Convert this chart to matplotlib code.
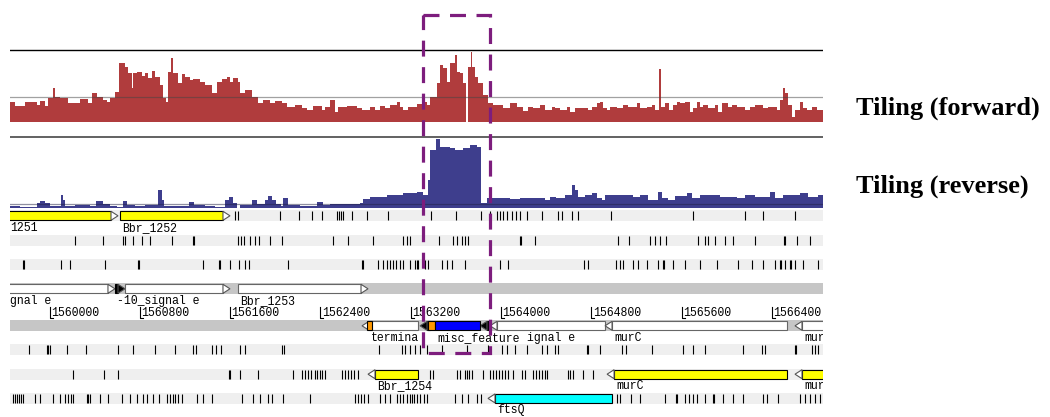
import numpy as np
import matplotlib
matplotlib.use("Agg")
import matplotlib.pyplot as plt
from matplotlib.patches import Rectangle, Polygon

# Genome window on screen. All positions below are bp from WINDOW_START.
WINDOW_START = 1559650
WINDOW_LEN = 7203

# Tiling signal, forward strand: step starts (bp) and heights (signal units)
fwd_pos = [0, 44, 133, 237, 266, 310, 339, 384, 399, 443, 517, 547, 620, 694,
           724, 768, 827, 857, 886, 930, 968, 1019, 1048, 1078, 1092, 1123,
           1167, 1196, 1225, 1255, 1285, 1329, 1358, 1382, 1403, 1424, 1447,
           1491, 1521, 1551, 1595, 1624, 1683, 1728, 1787, 1831, 1876, 1920,
           1949, 1978, 2023, 2038, 2082, 2141, 2200, 2244, 2304, 2348, 2407,
           2452, 2525, 2584, 2629, 2687, 2762, 2791, 2835, 2880, 2909, 2983,
           3072, 3116, 3190, 3234, 3278, 3323, 3367, 3426, 3455, 3485, 3529,
           3603, 3647, 3692, 3721, 3780, 3810, 3839, 3869, 3898, 3943, 3958,
           3987, 4017, 4040, 4055, 4085, 4093, 4120, 4149, 4194, 4238, 4282,
           4371, 4430, 4489, 4548, 4592, 4637, 4696, 4740, 4799, 4829, 4873,
           4932, 4962, 5006, 5124, 5154, 5198, 5227, 5257, 5287, 5316, 5375,
           5434, 5479, 5553, 5582, 5641, 5685, 5715, 5752, 5768, 5803, 5839,
           5877, 5907, 5936, 5981, 6025, 6054, 6084, 6113, 6143, 6187, 6246,
           6276, 6305, 6364, 6394, 6438, 6512, 6556, 6601, 6674, 6719, 6793,
           6823, 6852, 6867, 6897, 6926, 6955, 7000, 7029, 7059, 7103, 7147]
fwd_val = [0.85, 0.68, 0.85, 0.71, 0.89, 0.68, 0.99, 1.40, 1.03, 0.99, 0.78,
           0.80, 0.96, 0.78, 1.20, 1.05, 0.92, 0.82, 0.99, 1.26, 2.47, 2.30,
           2.03, 1.40, 2.03, 2.10, 1.92, 2.03, 1.82, 2.14, 1.89, 1.54, 0.99,
           0.85, 2.10, 2.65, 2.03, 1.61, 2.00, 1.89, 1.75, 1.78, 1.68, 1.54,
           1.20, 1.68, 1.78, 1.89, 1.68, 1.82, 1.68, 1.20, 1.33, 1.05, 0.78,
           0.92, 0.78, 0.88, 0.78, 0.61, 0.71, 0.57, 0.50, 0.67, 0.50, 0.64,
           0.92, 0.43, 0.64, 0.67, 0.57, 0.50, 0.64, 0.50, 0.68, 0.57, 0.71,
           0.85, 0.64, 0.50, 0.64, 0.74, 0.85, 0.71, 1.05, 1.61, 2.38, 2.24,
           1.68, 2.45, 2.79, 2.10, 2.03, 1.61, 0.00, 2.30, 2.93, 2.30, 1.89,
           1.61, 1.13, 0.78, 0.71, 0.57, 0.78, 0.64, 0.47, 0.64, 0.57, 0.71,
           0.50, 0.64, 0.57, 0.50, 0.64, 0.43, 0.57, 0.50, 0.64, 0.78, 0.85,
           0.57, 0.50, 0.64, 0.57, 0.71, 0.64, 0.78, 0.57, 0.64, 0.71, 0.50,
           2.20, 0.64, 0.78, 0.50, 0.71, 0.85, 0.78, 0.85, 0.43, 0.57, 0.85,
           0.64, 0.71, 0.57, 0.71, 0.43, 0.78, 0.64, 0.71, 0.64, 0.50, 0.64,
           0.71, 0.57, 0.64, 0.50, 0.92, 1.40, 1.20, 0.71, 0.22, 0.50, 0.85,
           0.57, 0.50, 0.64, 0.50]

# Tiling signal, reverse strand
rev_pos = [0, 89, 239, 266, 310, 354, 452, 470, 487, 576, 709, 762, 824, 886,
           948, 1001, 1037, 1108, 1196, 1311, 1347, 1364, 1506, 1586, 1630,
           1728, 1816, 1905, 1940, 1976, 2011, 2038, 2144, 2188, 2259, 2286,
           2321, 2357, 2401, 2419, 2463, 2569, 2720, 2773, 2835, 3101, 3128,
           3190, 3340, 3482, 3606, 3659, 3703, 3721, 3774, 3810, 3898, 3943,
           4014, 4076, 4138, 4173, 4226, 4341, 4430, 4519, 4607, 4740, 4785,
           4838, 4917, 4979, 5006, 5032, 5095, 5157, 5201, 5245, 5272, 5405,
           5520, 5582, 5653, 5741, 5777, 5830, 5892, 5998, 6043, 6113, 6291,
           6441, 6512, 6601, 6734, 6778, 6849, 7000, 7070, 7159]
rev_val = [0.08, 0.05, 0.21, 0.30, 0.21, 0.08, 0.54, 0.33, 0.08, 0.12, 0.10,
           0.29, 0.17, 0.08, 0.04, 0.29, 0.12, 0.08, 0.12, 0.75, 0.33, 0.08,
           0.10, 0.27, 0.12, 0.08, 0.06, 0.33, 0.46, 0.21, 0.02, 0.12, 0.33,
           0.17, 0.33, 0.50, 0.33, 0.17, 0.08, 0.42, 0.12, 0.10, 0.25, 0.12,
           0.17, 0.21, 0.36, 0.47, 0.54, 0.61, 0.68, 0.54, 1.17, 2.42, 2.86,
           2.55, 2.50, 2.42, 2.50, 2.63, 2.54, 0.20, 0.40, 0.42, 0.38, 0.42,
           0.40, 0.33, 0.47, 0.40, 0.54, 0.96, 0.75, 0.47, 0.54, 0.63, 0.40,
           0.33, 0.54, 0.54, 0.47, 0.54, 0.33, 0.67, 0.40, 0.33, 0.50, 0.63,
           0.40, 0.54, 0.47, 0.40, 0.54, 0.47, 0.67, 0.40, 0.54, 0.61, 0.47,
           0.54]

ruler_marks = [1560000, 1560800, 1561600, 1562400, 1563200, 1564000,
               1564800, 1565600, 1566400]

# features: (start, end, strand, colour, label as it shows on screen)
row1_features = [(-265, 957, "+", "yellow", "1251"),
                 (975, 1949, "+", "yellow", "Bbr_1252")]
row4_features = [(-387, 930, "+", "white", "gnal e"),
                 (930, 1019, "+", "black", "-10_signal e"),
                 (1019, 1949, "+", "white", ""),
                 (2020, 3172, "+", "white", "Bbr_1253")]
row5_features = [(3119, 3615, "-", "white", "termina"),
                 (3160, 3210, ".", "#ff9900", ""),
                 (3633, 3721, "-", "black", ""),
                 (3703, 3765, ".", "#ff9900", ""),
                 (4164, 4253, "-", "black", ""),
                 (4253, 5272, "-", "white", "ignal e"),
                 (3765, 4164, ".", "#0000ff", "misc_feature"),
                 (5272, 6884, "-", "white", "murC"),
                 (6955, 7900, "-", "white", "murC")]
row7_features = [(3172, 3615, "-", "yellow", "Bbr_1254"),
                 (5290, 6884, "-", "yellow", "murC"),
                 (6955, 7900, "-", "yellow", "murC")]
row8_features = [(4235, 5334, "-", "#00ffff", "ftsQ")]

# single hits drawn as ticks
row1_ticks = [1994, 2020, 2392, 2561, 2676, 2764, 2897, 2915, 2933, 2950,
              3030, 3163, 3349, 3730, 3952, 4173, 4253, 4315, 4341, 4368,
              4403, 4448, 4483, 4519, 4581, 4714, 4855, 4891, 4979, 5032,
              5325, 6051, 6512, 6672, 6955]
row2_ticks = [576, 824, 1001, 1019, 1090, 1170, 1240, 1435, 1621, 1630, 2020,
              2047, 2073, 2126, 2171, 2206, 2304, 2410, 2862, 2995, 3216,
              3482, 3517, 3544, 3801, 3925, 3960, 4005, 4031, 4058, 4519,
              4528, 4652, 5387, 5484, 5670, 5715, 5759, 5812, 6096, 6158,
              6184, 6246, 6335, 6406, 6601, 6858, 6867, 6973, 7088]
row3_ticks = [115, 124, 452, 532, 842, 1134, 1143, 1710, 1852, 1861, 1949,
              2029, 2082, 2118, 2463, 3119, 3128, 3260, 3305, 3340, 3367,
              3393, 3420, 3455, 3482, 3544, 3588, 3606, 3615, 3677, 3703,
              3828, 3872, 3916, 4031, 4341, 4412, 5086, 5121, 5369, 5405,
              5431, 5520, 5564, 5644, 5741, 5786, 5795, 5874, 5981, 6113,
              6264, 6450, 6574, 6672, 6778, 6822, 6831, 6867, 6911, 6920,
              6955, 7026, 7159]
row6_ticks = [168, 328, 337, 354, 505, 673, 957, 1090, 1285, 1462, 1621,
              1648, 1790, 1825, 1869, 2038, 2082, 2410, 2428, 3269, 3473,
              3500, 3544, 3588, 3633, 3695, 3828, 4049, 4235, 4359, 4403,
              4474, 4581, 4714, 4758, 4829, 4855, 5112, 5121, 5227, 5422,
              5458, 5688, 5963, 6051, 6158, 6494, 6663, 6689, 6955, 6964,
              7106, 7132, 7159]
row7_ticks = [558, 833, 957, 1940, 1949, 2038, 2197, 2507, 2587, 2614, 2640,
              2667, 2702, 2720, 2747, 2764, 2791, 2942, 2968, 2995, 3021,
              3048, 3083, 3721, 3748, 3960, 3987, 4031, 4049, 4067, 4093,
              4191, 4253, 4279, 4306, 4333, 4359, 4386, 4412, 4457, 4536,
              4563, 4634, 4660, 4687, 4714, 4740, 4758, 4944, 4962, 4988,
              5077, 5165]
row8_ticks = [27, 44, 62, 80, 97, 115, 222, 266, 381, 443, 487, 514, 540, 558,
              682, 691, 709, 797, 868, 992, 1063, 1125, 1178, 1214, 1267,
              1320, 1391, 1418, 1444, 1462, 1488, 1524, 1657, 1710, 1790,
              2056, 2153, 2215, 2286, 2321, 2419, 2658, 3057, 3083, 3110,
              3136, 3172, 3278, 3323, 3367, 3429, 3455, 3482, 3517, 3544,
              3562, 3579, 3606, 3633, 3668, 3695, 3943, 4005, 4058, 4138,
              4173, 5378, 5405, 5502, 5582, 5803, 5901, 5910, 5981, 6016,
              6051, 6087, 6158, 6229, 6238, 6317, 6406, 6494, 6672, 6707,
              6804, 7000, 7044, 7088, 7132, 7177]

# --- figure: one axes in genome bp (x) and screen rows (y) ----------------
W, H = 1050, 417
fig = plt.figure(figsize=(W / 100, H / 100), dpi=100)
ax = fig.add_axes([10 / W, 0, 813 / W, 1])
ax.set_xlim(0, WINDOW_LEN)
ax.set_ylim(H, 0)
ax.axis("off")

BP = WINDOW_LEN / 813          # bp per pixel
UNIT = 24                      # pixels per signal unit
RED = "#b03c3d"
BLUE = "#3e3e8d"
MONO = "Liberation Mono"
FS = 8.3
CHAR_PX = 6.9                  # width of one monospace character


def draw_signal(pos, val, base, colour):
    x = np.append(pos, WINDOW_LEN)
    y = np.append(val, val[-1])
    ax.fill_between(x, base, base - y * UNIT, step="post", color=colour,
                    lw=0, zorder=2)


draw_signal(fwd_pos, fwd_val, 122, RED)
draw_signal(rev_pos, rev_val, 208, BLUE)
ax.axhline(50, color="black", lw=1.0, zorder=3)
ax.axhline(97, color="#444444", lw=0.9, alpha=0.5, zorder=3)
ax.axhline(137, color="#555555", lw=1.3, zorder=3)
ax.axhline(204, color="#222244", lw=0.9, alpha=0.5, zorder=3)

# track rows: (centre y, band colour)
rows = {1: (215.8, "#efefef"), 2: (240.5, "#efefef"), 3: (264.7, "#efefef"),
        4: (288.8, "#c6c6c6"), 5: (325.8, "#c6c6c6"), 6: (349.2, "#efefef"),
        7: (374.2, "#efefef"), 8: (398.4, "#efefef")}
for yc, band in rows.values():
    ax.add_patch(Rectangle((0, yc - 5.5), WINDOW_LEN, 11, fc=band, ec="none",
                           zorder=1))


def draw_ticks(row, ticks):
    yc = rows[row][0]
    ax.vlines(ticks, yc - 4.5, yc + 4.5, color="black", lw=0.8, zorder=2)


for r, t in [(1, row1_ticks), (2, row2_ticks), (3, row3_ticks),
             (6, row6_ticks), (7, row7_ticks), (8, row8_ticks)]:
    draw_ticks(r, t)

ARROW = 7 * BP


def box_start(start, strand):
    return start + ARROW if strand == "-" else start


def draw_feature(row, start, end, strand, colour):
    yc = rows[row][0]
    h = 9
    edge = "#666666" if colour == "white" else "black"
    tri_fc = "black" if colour == "black" else "white"
    y0, y1 = yc - h / 2, yc + h / 2
    tri = None
    bx0, bx1 = box_start(start, strand), end
    if strand == "+":
        bx1 = end - ARROW
        tri = [(bx1, y0), (end, yc), (bx1, y1)]
    elif strand == "-":
        tri = [(bx0, y0), (start, yc), (bx0, y1)]
    ax.add_patch(Rectangle((bx0, y0), bx1 - bx0, h, fc=colour, ec=edge,
                           lw=0.8, zorder=3))
    if tri:
        ax.add_patch(Polygon(tri, closed=True, fc=tri_fc, ec="#555555",
                             lw=0.8, zorder=3))


def draw_labels(row, feats):
    # labels sit under the box, held inside the view; a label that would
    # run into the previous one is pushed to the right
    yc = rows[row][0]
    placed = sorted((max(box_start(s, st) + 2 * BP, 0), lab)
                    for s, e, st, c, lab in feats if lab)
    last_end = -1e9
    for x, lab in placed:
        x = max(x, last_end + CHAR_PX * BP)
        ax.text(x, yc + 12, lab, fontfamily=MONO, fontsize=FS, va="center",
                ha="left", zorder=4, clip_on=True)
        last_end = x + len(lab) * CHAR_PX * BP


for r, feats in [(1, row1_features), (4, row4_features), (5, row5_features),
                 (7, row7_features), (8, row8_features)]:
    for s, e, st, c, lab in feats:
        draw_feature(r, s, e, st, c)
    draw_labels(r, feats)

# coordinate ruler
for mark in ruler_marks:
    x = mark - WINDOW_START
    ax.plot([x, x, x + 3 * BP], [307, 318, 318], color="black", lw=0.8,
            zorder=3)
    ax.text(x + 1.5 * BP, 313, str(mark), fontfamily=MONO, fontsize=FS,
            va="center", ha="left", zorder=4)

# highlighted region
ax.add_patch(Rectangle((3659, 15), 594, 338, fill=False, ec="#7d1d7d",
                       lw=2.3, ls=(0, (5, 3.3)), zorder=6, clip_on=False))

for txt, yb in [("Tiling (forward)", 115), ("Tiling (reverse)", 193)]:
    fig.text(856 / W, 1 - yb / H, txt, fontfamily="Liberation Serif",
             fontweight="bold", fontsize=19, va="baseline", ha="left")

fig.savefig("out.png", dpi=100)
plt.close(fig)
